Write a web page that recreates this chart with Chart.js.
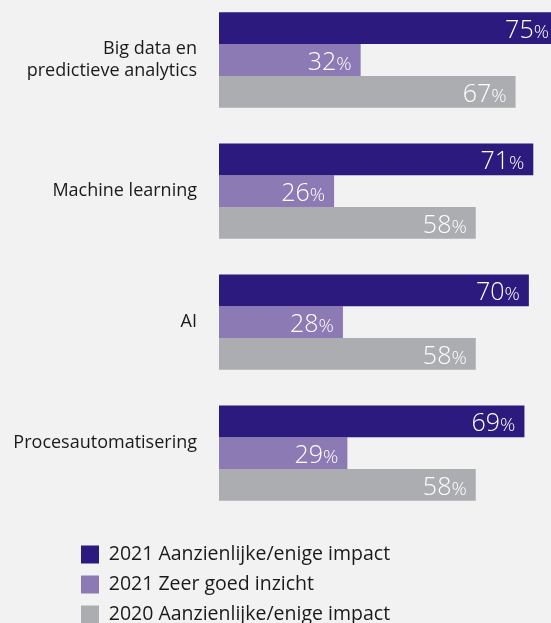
<!DOCTYPE html>
<html><head><meta charset="utf-8">
<script src="https://cdn.jsdelivr.net/npm/chart.js@4"></script>
<style>html,body{margin:0;padding:0;background:#f2f2f2;} #wrap{width:551px;height:623px;position:relative;}</style>
</head><body><div id="wrap"><canvas id="c"></canvas></div>
<script>
const categories = [['Big data en', 'predictieve analytics'], 'Machine learning', 'AI', ['Procesautomatisering', '']];
const seriesNames = ['2021 Aanzienlijke/enige impact', '2021 Zeer goed inzicht', '2020 Aanzienlijke/enige impact'];
const impact2021 = [75, 71, 70, 69];
const insight2021 = [32, 26, 28, 29];
const impact2020 = [67, 58, 58, 58];
const colors = ['#2c1a7e', '#8c7ab5', '#acadb0'];
const FONT = '"Open Sans"';

const valueLabels = {
  id: 'valueLabels',
  afterDatasetsDraw(chart) {
    const ctx = chart.ctx, area = chart.chartArea;
    chart.data.datasets.forEach((ds, i) => {
      const meta = chart.getDatasetMeta(i);
      meta.data.forEach((bar, j) => {
        const v = ds.data[j];
        ctx.save();
        ctx.fillStyle = '#ffffff';
        ctx.textBaseline = 'alphabetic';
        ctx.textAlign = 'right';
        const pad = bar.x >= area.right - 1 ? 2 : 9;
        const x = bar.x - pad, y = bar.y + 10;
        ctx.font = '300 19px ' + FONT;
        ctx.fillText('%', x, y);
        const w = ctx.measureText('%').width;
        ctx.font = '300 25px ' + FONT;
        ctx.fillText(String(v), x - w, y);
        ctx.restore();
      });
    });
  }
};

const legendShift = {
  id: 'legendShift',
  afterLayout(chart) {
    if (chart.legend) chart.legend.left = 70.5;
  }
};

new Chart(document.getElementById('c'), {
  type: 'bar',
  data: {
    labels: categories,
    datasets: [
      { label: seriesNames[0], data: impact2021, backgroundColor: colors[0], clip: false },
      { label: seriesNames[1], data: insight2021, backgroundColor: colors[1], clip: false },
      { label: seriesNames[2], data: impact2020, backgroundColor: colors[2], clip: false }
    ]
  },
  plugins: [valueLabels, legendShift],
  options: {
    indexAxis: 'y',
    responsive: true,
    maintainAspectRatio: false,
    animation: false,
    layout: { padding: { top: 60, left: 0, right: 0, bottom: -11.3 } },
    datasets: { bar: { categoryPercentage: 0.727, barPercentage: 1, borderWidth: 0 } },
    scales: {
      x: {
        min: 0, max: 75, display: true,
        ticks: { display: false },
        grid: { display: false, drawTicks: false },
        border: { display: false },
        afterFit(s) { s.height = 81.1; }
      },
      y: {
        offset: false,
        ticks: { color: '#1a1a1a', font: { family: FONT, size: 18 }, padding: 22 },
        grid: { display: false, drawTicks: false },
        border: { display: false },
        afterFit(s) { s.width = 219; }
      }
    },
    plugins: {
      legend: {
        position: 'bottom', align: 'start',
        labels: { boxWidth: 18, boxHeight: 18, padding: 10.5, color: '#1a1a1a', font: { family: FONT, size: 19.5 } }
      },
      tooltip: { enabled: false }
    }
  }
});
</script>
</body></html>
